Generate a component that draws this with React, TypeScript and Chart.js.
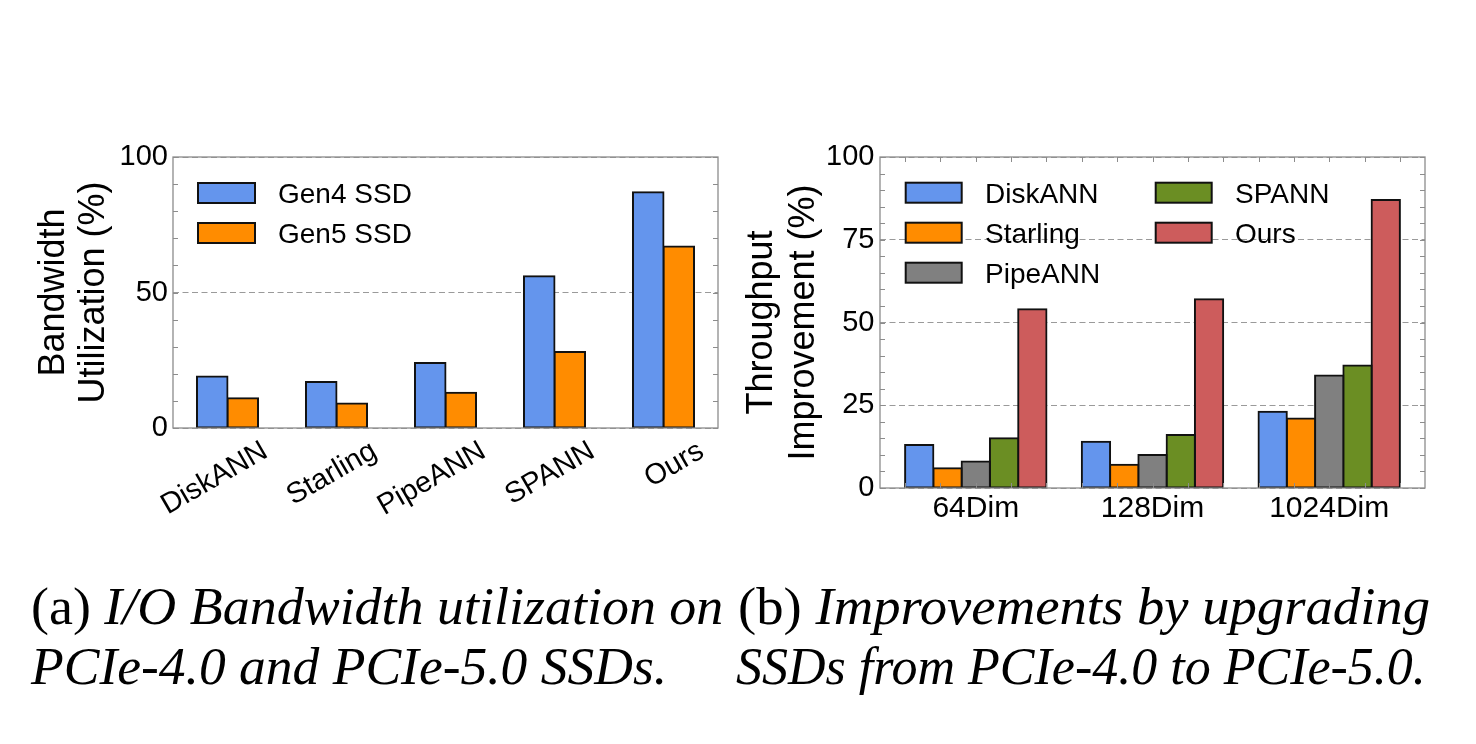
import React, { useEffect, useLayoutEffect, useRef, useState } from 'react';
import { Chart, registerables } from 'chart.js';

Chart.register(...registerables);

// ---------- data: chart (a) ----------
const systems = ['DiskANN', 'Starling', 'PipeANN', 'SPANN', 'Ours'];
const gen4 = [19, 17, 24, 56, 87];
const gen5 = [11, 9, 13, 28, 67];
const leftTicks = [0, 50, 100];

// ---------- data: chart (b) ----------
const dims = ['64Dim', '128Dim', '1024Dim'];
const diskann = [13, 14, 23];
const starling = [6, 7, 21];
const pipeann = [8, 10, 34];
const spann = [15, 16, 37];
const ours = [54, 57, 87];
const rightTicks = [0, 25, 50, 75, 100];

const FONT = '"Liberation Sans", Arial, sans-serif';
const SERIF = '"Liberation Serif", "Times New Roman", serif';
const BLUE = '#6495ED';
const ORANGE = '#FF8C00';
const GRAY = '#808080';
const GREEN = '#6B8E23';
const RED = '#CD5C5C';
const EDGE = '#111111';
const FRAME = '#8c8c8c';
const GRID = '#9a9a9a';

const framePlugin = {
  id: 'frame',
  afterDatasetsDraw(chart: any, _args: any, o: any) {
    const { ctx, chartArea } = chart;
    const { left, right, top, bottom } = chartArea;
    const ys = chart.scales.y;
    const xs = chart.scales.x;
    ctx.save();
    ctx.strokeStyle = FRAME;
    ctx.lineWidth = 1;
    ctx.beginPath();
    if (o.yMinor) {
      for (let v = ys.min; v <= ys.max + 1e-9; v += o.yMinor) {
        const y = Math.round(ys.getPixelForValue(v)) + 0.5;
        ctx.moveTo(left, y);
        ctx.lineTo(left + 5, y);
        ctx.moveTo(right, y);
        ctx.lineTo(right - 5, y);
      }
    }
    if (o.xMinor) {
      const start = Math.ceil(xs.min / o.xMinor) * o.xMinor;
      for (let v = start; v <= xs.max + 1e-9; v += o.xMinor) {
        const x = Math.round(xs.getPixelForValue(v)) + 0.5;
        ctx.moveTo(x, top);
        ctx.lineTo(x, top + 5);
        ctx.moveTo(x, bottom);
        ctx.lineTo(x, bottom - 5);
      }
    }
    ctx.stroke();
    ctx.lineWidth = 1.3;
    ctx.strokeRect(left, top, right - left, bottom - top);
    ctx.restore();
  },
};

const legendPlugin = {
  id: 'boxLegend',
  afterDatasetsDraw(chart: any, _args: any, o: any) {
    const { ctx, chartArea } = chart;
    ctx.save();
    ctx.font = `${o.fontSize}px ${FONT}`;
    ctx.textBaseline = 'alphabetic';
    ctx.textAlign = 'left';
    chart.data.datasets.forEach((ds: any, k: number) => {
      const col = Math.floor(k / o.rows);
      const row = k % o.rows;
      const x = chartArea.left + o.x0 + col * o.colGap;
      const y = chartArea.top + o.y0 + row * o.rowGap;
      ctx.fillStyle = ds.backgroundColor;
      ctx.fillRect(x, y, o.boxW, o.boxH);
      ctx.lineWidth = 2;
      ctx.strokeStyle = EDGE;
      ctx.strokeRect(x, y, o.boxW, o.boxH);
      ctx.fillStyle = '#000';
      ctx.fillText(ds.label, x + o.boxW + o.textGap, y + o.boxH / 2 + o.fontSize * 0.358);
    });
    ctx.restore();
  },
};

const barStyle = (catPct: number) => ({
  borderColor: EDGE,
  borderWidth: 2,
  borderSkipped: false,
  inflateAmount: 1,
  categoryPercentage: catPct,
  barPercentage: 1,
});

function makeLeft(): any {
  return {
    type: 'bar',
    data: {
      labels: systems,
      datasets: [
        { label: 'Gen4 SSD', data: gen4, backgroundColor: BLUE, ...barStyle(0.56) },
        { label: 'Gen5 SSD', data: gen5, backgroundColor: ORANGE, ...barStyle(0.56) },
      ],
    },
    options: {
      animation: false,
      responsive: false,
      maintainAspectRatio: false,
      layout: { padding: { top: 57, right: 17, left: 0, bottom: 0 } },
      plugins: {
        legend: { display: false },
        tooltip: { enabled: false },
        frame: { yMinor: 10 },
        boxLegend: { rows: 2, x0: 25, y0: 26, colGap: 250, rowGap: 40, boxW: 57, boxH: 20, textGap: 23, fontSize: 28 },
      },
      scales: {
        x: {
          type: 'category',
          grid: { display: false },
          border: { display: false },
          ticks: {
            font: { family: FONT, size: 29, lineHeight: 1 },
            color: '#000',
            minRotation: 30,
            maxRotation: 30,
            labelOffset: 38,
            padding: 0.5,
            autoSkip: false,
          },
          afterFit: (s: any) => { s.height = 132; },
        },
        y: {
          min: 0,
          max: 100,
          afterBuildTicks: (s: any) => { s.ticks = leftTicks.map((v) => ({ value: v })); },
          ticks: { font: { family: FONT, size: 29, lineHeight: 1 }, color: '#000', padding: 5 },
          grid: { color: GRID, lineWidth: 1, drawTicks: false },
          border: { display: false, dash: [6, 3.5] },
          title: {
            display: true,
            text: ['Bandwidth', 'Utilization (%)'],
            font: { family: FONT, size: 36, lineHeight: 1.12 },
            color: '#000',
            padding: { top: 34, bottom: 0 },
          },
          afterFit: (s: any) => { s.width = 173; },
        },
      },
    },
    plugins: [framePlugin, legendPlugin],
  };
}

function makeRight(): any {
  const pts = (arr: number[]) => dims.map((_, i) => ({ x: i, y: arr[i] }));
  return {
    type: 'bar',
    data: {
      datasets: [
        { label: 'DiskANN', data: pts(diskann), backgroundColor: BLUE, ...barStyle(0.8) },
        { label: 'Starling', data: pts(starling), backgroundColor: ORANGE, ...barStyle(0.8) },
        { label: 'PipeANN', data: pts(pipeann), backgroundColor: GRAY, ...barStyle(0.8) },
        { label: 'SPANN', data: pts(spann), backgroundColor: GREEN, ...barStyle(0.8) },
        { label: 'Ours', data: pts(ours), backgroundColor: RED, ...barStyle(0.8) },
      ],
    },
    options: {
      animation: false,
      responsive: false,
      maintainAspectRatio: false,
      layout: { padding: { top: 57, right: 51, left: 0, bottom: 0 } },
      plugins: {
        legend: { display: false },
        tooltip: { enabled: false },
        frame: { yMinor: 5, xMinor: 0.2 },
        boxLegend: { rows: 3, x0: 25.7, y0: 25.7, colGap: 250, rowGap: 40, boxW: 56, boxH: 20, textGap: 23.3, fontSize: 28 },
      },
      scales: {
        x: {
          type: 'linear',
          min: -0.542,
          max: 2.542,
          offset: false,
          afterBuildTicks: (s: any) => { s.ticks = dims.map((_, i) => ({ value: i })); },
          grid: { display: false },
          border: { display: false },
          ticks: {
            font: { family: FONT, size: 30, lineHeight: 1 },
            color: '#000',
            padding: -2.5,
            maxRotation: 0,
            autoSkip: false,
            callback: (v: any) => dims[Math.round(Number(v))] ?? '',
          },
          afterFit: (s: any) => { s.height = 72; },
        },
        y: {
          min: 0,
          max: 100,
          afterBuildTicks: (s: any) => { s.ticks = rightTicks.map((v) => ({ value: v })); },
          ticks: { font: { family: FONT, size: 29, lineHeight: 1 }, color: '#000', padding: 5.5 },
          grid: { color: GRID, lineWidth: 1, drawTicks: false },
          border: { display: false, dash: [6, 3.5] },
          title: {
            display: true,
            text: ['Throughput', 'Improvement (%)'],
            font: { family: FONT, size: 36, lineHeight: 1.17 },
            color: '#000',
            padding: { top: 6, bottom: 0 },
          },
          afterFit: (s: any) => { s.width = 145; },
        },
      },
    },
    plugins: [framePlugin, legendPlugin],
  };
}

function CaptionLine(props: { prefix?: string; italic: string; left: number; baseline: number; target: number }) {
  const { prefix, italic, left, baseline, target } = props;
  const ref = useRef<HTMLSpanElement>(null);
  const [scale, setScale] = useState(1);
  const size = 52;
  useLayoutEffect(() => {
    if (ref.current) {
      const w = ref.current.offsetWidth;
      if (w) setScale(target / w);
    }
  }, [target]);
  return (
    <div
      style={{
        position: 'absolute',
        left,
        top: baseline - 0.8375 * size,
        fontFamily: SERIF,
        fontSize: size,
        lineHeight: `${size}px`,
        whiteSpace: 'nowrap',
        color: '#000',
        transformOrigin: '0 0',
        transform: `scaleX(${scale})`,
      }}
    >
      <span ref={ref}>
        {prefix}
        <i>{italic}</i>
      </span>
    </div>
  );
}

export default function App() {
  const leftRef = useRef<HTMLCanvasElement>(null);
  const rightRef = useRef<HTMLCanvasElement>(null);
  useEffect(() => {
    const a = new Chart(leftRef.current as HTMLCanvasElement, makeLeft());
    const b = new Chart(rightRef.current as HTMLCanvasElement, makeRight());
    return () => {
      a.destroy();
      b.destroy();
    };
  }, []);
  return (
    <div style={{ position: 'absolute', left: 0, top: 0, width: 1476, height: 744, background: '#fff', overflow: 'hidden' }}>
      <canvas ref={leftRef} width={735} height={460} style={{ position: 'absolute', left: 0, top: 100, width: 735, height: 460 }} />
      <canvas ref={rightRef} width={741} height={460} style={{ position: 'absolute', left: 735, top: 100, width: 741, height: 460 }} />
      <CaptionLine prefix="(a) " italic="I/O Bandwidth utilization on" left={31} baseline={625} target={692} />
      <CaptionLine italic="PCIe-4.0 and PCIe-5.0 SSDs." left={31} baseline={685} target={636} />
      <CaptionLine prefix="(b) " italic="Improvements by upgrading" left={738} baseline={625} target={692} />
      <CaptionLine italic="SSDs from PCIe-4.0 to PCIe-5.0." left={736} baseline={685} target={690} />
    </div>
  );
}
